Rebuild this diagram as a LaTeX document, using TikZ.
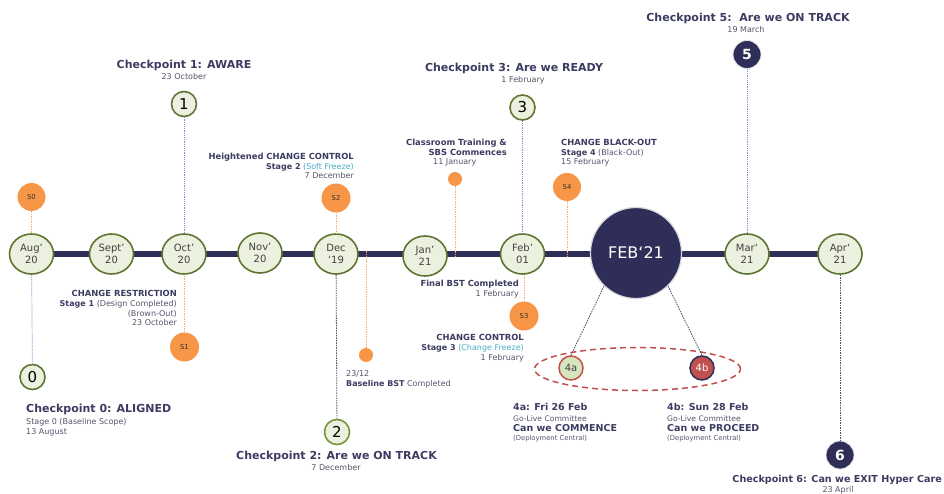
\documentclass[tikz,border=0pt]{standalone}
\usepackage{fontspec}
\setmainfont{DejaVu Sans}
\usetikzlibrary{shapes.geometric,backgrounds}

\definecolor{navy}{HTML}{2E2E58}
\definecolor{headc}{HTML}{3C3C62}
\definecolor{smallc}{HTML}{55556A}
\definecolor{olive}{HTML}{5E7532}
\definecolor{leaf}{HTML}{77933C}
\definecolor{palegreen}{HTML}{EBF1DE}
\definecolor{sage}{HTML}{D7E4BD}
\definecolor{orangec}{HTML}{F79646}
\definecolor{orangeline}{HTML}{F8AE78}
\definecolor{linkblue}{HTML}{7F90CF}
\definecolor{linkdark}{HTML}{4E4E72}
\definecolor{freeze}{HTML}{4BACC6}
\definecolor{redc}{HTML}{C0504D}

\begin{document}
\begin{tikzpicture}[x=1pt,y=-1pt,
  month/.style={ellipse, draw=olive, line width=1.6pt, fill=palegreen,
    minimum width=44pt, minimum height=40pt, inner sep=0pt, align=center,
    text=black!75, font=\fontsize{10}{11.5}\selectfont},
  bigmonth/.style={circle, fill=navy, draw=black!15, line width=1.2pt,
    minimum size=91pt, inner sep=0pt, text=white, font=\fontsize{16}{16}\selectfont},
  ckpt/.style={circle, draw=olive, line width=1.6pt, fill=palegreen,
    minimum size=25pt, inner sep=0pt, font=\fontsize{15}{15}\selectfont},
  ckdark/.style={circle, fill=navy, draw=black!10, line width=0.8pt,
    minimum size=28pt, inner sep=0pt, text=white, font=\bfseries\fontsize{14}{14}\selectfont},
  stagedot/.style={circle, fill=orangec, minimum size=29pt, inner sep=0pt,
    text=black!80, font=\fontsize{6.8}{7}\selectfont},
  smalldot/.style={circle, fill=orangec, minimum size=14pt, inner sep=0pt},
  gatecirc/.style={circle, line width=1.5pt, minimum size=24pt, inner sep=0pt,
    font=\fontsize{10}{10}\selectfont},
  bar/.style={draw=navy, line width=5.6pt},
  cklink/.style={draw=linkblue, line width=0.7pt, dash pattern=on 1.2pt off 1pt},
  darklink/.style={draw=linkdark, line width=0.8pt, dash pattern=on 1.5pt off 1pt},
  orlink/.style={draw=orangeline, line width=0.8pt, dash pattern=on 1.5pt off 1pt},
  title/.style={font=\bfseries\fontsize{11}{13}\selectfont, text=headc, inner sep=0pt},
  hd/.style={font=\bfseries\fontsize{8.4}{10}\selectfont, text=headc, inner sep=0pt},
  sm/.style={font=\fontsize{8}{10}\selectfont, text=smallc, inner sep=0pt},
  gate/.style={font=\bfseries\fontsize{9.5}{11}\selectfont, text=headc, inner sep=0pt},
  gl/.style={font=\fontsize{7.6}{9}\selectfont, text=smallc, inner sep=0pt},
  tinyc/.style={font=\fontsize{6.8}{8}\selectfont, text=smallc, inner sep=0pt}
]
\useasboundingbox (0,0) rectangle (944,494);

% ---- months along the timeline ----
\node[month] (aug) at (31.5,254) {Aug’\\20};
\node[month] (sep) at (111.5,254) {Sept’\\20};
\node[month] (oct) at (184,254) {Oct’\\20};
\node[month] (nov) at (260,253) {Nov’\\20};
\node[month] (dec) at (336,254) {Dec\\‘19};
\node[month] (jan) at (425,256) {Jan’\\21};
\node[month] (feb) at (522.5,254) {Feb’\\01};
\node[bigmonth] (feb21) at (636,253) {FEB‘21};
\node[month] (mar) at (747,254) {Mar‘\\21};
\node[month] (apr) at (840,254) {Apr‘\\21};

\begin{pgfonlayer}{background}
  \fill[white] (0,0) rectangle (944,494);
  \draw[bar] (aug.center) -- (apr.center);
\end{pgfonlayer}

% ---- checkpoints ----
\node[ckpt] (c0) at (32.5,377) {0};
\node[ckpt] (c1) at (184,104) {1};
\node[ckpt, draw=leaf] (c2) at (337,432) {2};
\node[ckpt] (c3) at (522.5,107.5) {3};
\node[ckdark] (c5) at (747,54.5) {5};
\node[ckdark] (c6) at (840,455) {6};

\draw[cklink] (aug) -- (c0);
\draw[cklink] (c1) -- (oct);
\draw[darklink] (dec) -- (c2);
\draw[cklink] (c3) -- (feb);
\draw[cklink] (c5) -- (mar);
\draw[darklink] (apr) -- (c6);

% ---- change stages ----
\node[stagedot, minimum size=28pt] (s0) at (31.5,197) {S0};
\node[stagedot] (s1) at (184.5,347) {S1};
\node[stagedot] (s2) at (336,198) {S2};
\node[stagedot] (s3) at (524,316) {S3};
\node[stagedot, minimum size=28pt] (s4) at (567,187) {S4};
\node[smalldot] (dotA) at (455,179) {};
\node[smalldot] (dotB) at (366,355) {};

\draw[orlink] (s0) -- (aug);
\draw[orlink] (s1) -- (s1 |- oct.south);
\draw[orlink] (s2) -- (dec);
\draw[orlink] (s3) -- (s3 |- feb.south);
\draw[orlink] (s4) -- ([yshift=-3pt]s4 |- aug.center);
\draw[orlink] (dotA) -- ([yshift=-3pt]dotA |- aug.center);
\draw[orlink] (dotB) -- ([yshift=3pt]dotB |- aug.center);

% ---- go-live gates ----
\node[ellipse, draw=redc, line width=1.5pt, dash pattern=on 6pt off 4pt,
  minimum width=206pt, minimum height=43pt] (gates) at (637.5,369) {};
\node[gatecirc, draw=redc, fill=sage, text=black!75] (c4a) at (571,368) {4a};
\node[gatecirc, draw=navy, fill=redc, text=white] (c4b) at (702,368) {4b};
\draw[darklink] (feb21.226) -- (c4a.north);
\draw[darklink] (feb21.314) -- (c4b.north);

% ---- checkpoint captions ----
\node[title, anchor=base] (t1) at (184,69) {Checkpoint 1: AWARE};
\node[sm, anchor=base] (t1d) at (184,79.5) {23 October};

\node[title, anchor=base] (t3) at (514,71.7) {Checkpoint 3: Are we READY};
\node[sm, anchor=base] (t3d) at (523,82.3) {1 February};

\node[title, anchor=base] (t5) at (748,21.7) {Checkpoint 5:\ \ Are we ON TRACK};
\node[sm, anchor=base] (t5d) at (746,33) {19 March};

\node[title, anchor=base west] (t0) at (26,412.7) {Checkpoint 0: ALIGNED};
\node[sm, anchor=base west] (t0a) at (26,424) {Stage 0 (Baseline Scope)};
\node[sm, anchor=base west] (t0d) at (26,434) {13 August};

\node[title, anchor=base] (t2) at (336.5,459.3) {Checkpoint 2: Are we ON TRACK};
\node[sm, anchor=base] (t2d) at (336,470) {7 December};

\node[title, font=\bfseries\fontsize{9.6}{12}\selectfont, anchor=base east] (t6) at (942,482.7) {Checkpoint 6: Can we EXIT Hyper Care};
\node[sm, anchor=base] (t6d) at (838,492.7) {23 April};

% ---- stage captions ----
\node[hd, anchor=base east] (r1) at (177,296) {CHANGE RESTRICTION};
\node[sm, anchor=base east] (r2) at (177,306) {\textbf{\color{headc}Stage 1} (Design Completed)};
\node[sm, anchor=base east] (r3) at (177,316) {(Brown-Out)};
\node[sm, anchor=base east] (r4) at (177,325.5) {23 October};

\node[hd, anchor=base east] (h1) at (354,159.3) {Heightened CHANGE CONTROL};
\node[sm, anchor=base east] (h2) at (354,169.8) {\textbf{\color{headc}Stage 2} {\color{freeze}(Soft Freeze)}};
\node[sm, anchor=base east] (h3) at (354,179) {7 December};

\node[hd, anchor=base east] (k1) at (507,145.7) {Classroom Training \&};
\node[hd, anchor=base east] (k2) at (507,155.7) {SBS Commences};
\node[sm, anchor=base west] (k3) at (433,165) {11 January};

\node[hd, anchor=base east] (f1) at (519,286.7) {Final BST Completed};
\node[sm, anchor=base east] (f2) at (519,296) {1 February};

\node[hd, anchor=base east] (g1) at (524,340) {CHANGE CONTROL};
\node[sm, anchor=base east] (g2) at (524,350.7) {\textbf{\color{headc}Stage 3} {\color{freeze}(Change Freeze)}};
\node[sm, anchor=base east] (g3) at (524,360.7) {1 February};

\node[sm, anchor=base west] (b1) at (346,376) {23/12};
\node[sm, anchor=base west] (b2) at (346,386) {\textbf{\color{headc}Baseline BST} Completed};

\node[hd, anchor=base west] (x1) at (561,145.7) {CHANGE BLACK-OUT};
\node[sm, anchor=base west] (x2) at (561,155.7) {\textbf{\color{headc}Stage 4} (Black-Out)};
\node[sm, anchor=base west] (x3) at (561,165) {15 February};

% ---- gate captions ----
\node[gate, anchor=base west] (a1) at (513,410.7) {4a: Fri 26 Feb};
\node[gl, anchor=base west] (a2) at (513,421.7) {Go-Live Committee};
\node[gate, anchor=base west] (a3) at (513,431.7) {Can we COMMENCE};
\node[tinyc, anchor=base west] (a4) at (513,440.5) {(Deployment Central)};

\node[gate, anchor=base west] (p1) at (667,410.7) {4b: Sun 28 Feb};
\node[gl, anchor=base west] (p2) at (667,421.7) {Go-Live Committee};
\node[gate, anchor=base west] (p3) at (667,431.7) {Can we PROCEED};
\node[tinyc, anchor=base west] (p4) at (667,440.5) {(Deployment Central)};
\end{tikzpicture}
\end{document}
